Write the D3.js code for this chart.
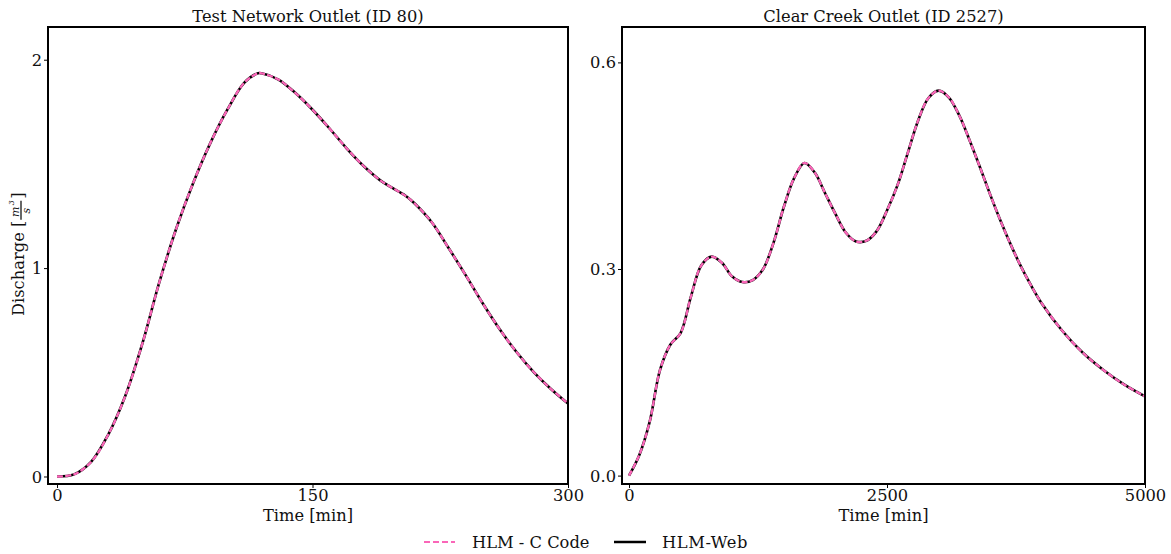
<!DOCTYPE html>
<html><head><meta charset="utf-8">
<script src="https://cdn.jsdelivr.net/npm/d3@7"></script>
<style>
body{margin:0;background:#fff;}
text{font-family:"DejaVu Serif",serif;fill:#111;}
</style></head><body>
<svg id="c" width="1171" height="554"></svg>
<script>
// ---- Data ----
const leftTime = [0,10,20,30,40,50,60,70,80,90,100,110,118,120,130,140,150,160,170,180,190,200,205,210,220,230,240,250,260,270,280,290,300];
const leftQ    = [0,0.01,0.07,0.20,0.385,0.635,0.93,1.19,1.41,1.60,1.76,1.89,1.935,1.935,1.905,1.84,1.76,1.67,1.575,1.49,1.42,1.37,1.345,1.31,1.22,1.095,0.965,0.83,0.705,0.595,0.50,0.42,0.35];
const rightTime = [0,100,200,300,400,500,600,700,800,900,1000,1100,1200,1300,1400,1500,1600,1700,1800,1900,2000,2100,2200,2300,2400,2500,2600,2700,2800,2900,3000,3100,3200,3300,3400,3500,3600,3700,3800,3900,4000,4200,4400,4600,4800,5000];
const rightQ    = [0,0.03,0.078,0.153,0.19,0.207,0.26,0.305,0.318,0.309,0.289,0.281,0.284,0.30,0.338,0.39,0.432,0.454,0.44,0.41,0.38,0.353,0.34,0.341,0.355,0.385,0.421,0.468,0.515,0.548,0.559,0.549,0.523,0.487,0.448,0.408,0.37,0.335,0.303,0.275,0.25,0.21,0.178,0.153,0.132,0.115];
const leftXTicks = [0,150,300];
const leftYTicks = [0,1,2];
const rightXTicks = [0,2500,5000];
const rightYTicks = [0,0.3,0.6];
const titles = ["Test Network Outlet (ID 80)","Clear Creek Outlet (ID 2527)"];
const seriesNames = ["HLM - C Code","HLM-Web"];
const pink = "#fa66b8";
const FS = 16.3;

const svg = d3.select("#c");

function panel(cfg){
  const {x0,x1,y0,y1,xd,yd,xt,yt,yfmt,time,q,title} = cfg;
  const x = d3.scaleLinear().domain(xd).range([x0,x1]);
  const y = d3.scaleLinear().domain(yd).range([y1,y0]);
  const g = svg.append("g");
  const pts = time.map((t,i)=>[t,q[i]]);
  const line = d3.line().x(d=>x(d[0])).y(d=>y(d[1])).curve(d3.curveCatmullRom.alpha(0.5));
  g.append("path").attr("d",line(pts)).attr("fill","none").attr("stroke","#000").attr("stroke-width",2.6);
  g.append("path").attr("d",line(pts)).attr("fill","none").attr("stroke",pink).attr("stroke-width",2.3).attr("stroke-dasharray","6,2.2");
  g.append("rect").attr("x",x0).attr("y",y0).attr("width",x1-x0).attr("height",y1-y0)
    .attr("fill","none").attr("stroke","#000").attr("stroke-width",2);
  const ax = g.append("g").attr("transform",`translate(0,${y1})`)
    .call(d3.axisBottom(x).tickValues(xt).tickSize(4).tickPadding(1).tickFormat(d3.format("d")));
  const ay = g.append("g").attr("transform",`translate(${x0},0)`)
    .call(d3.axisLeft(y).tickValues(yt).tickSize(4).tickPadding(2).tickFormat(yfmt));
  [ax,ay].forEach(a=>{a.select(".domain").remove();a.selectAll("text").attr("font-size",FS).attr("font-family","DejaVu Serif").attr("fill","#111");a.selectAll("line").attr("stroke","#000");});
  ay.selectAll("text").attr("dy","0.34em");
  g.append("text").attr("x",(x0+x1)/2).attr("y",y0-5).attr("text-anchor","middle").attr("font-size",FS).text(title);
  g.append("text").attr("x",(x0+x1)/2).attr("y",y1+37).attr("text-anchor","middle").attr("font-size",FS).text("Time [min]");
}

panel({x0:48,x1:568,y0:27,y1:484,xd:[-5.3,300],yd:[-0.036,2.157],xt:leftXTicks,yt:leftYTicks,yfmt:d3.format("d"),time:leftTime,q:leftQ,title:titles[0]});
panel({x0:622,x1:1145,y0:27,y1:484,xd:[-68,5000],yd:[-0.0122,0.6514],xt:rightXTicks,yt:rightYTicks,yfmt:d3.format(".1f"),time:rightTime,q:rightQ,title:titles[1]});

// y-axis label with fraction
const yl = svg.append("g").attr("transform","translate(24,255) rotate(-90)");
const t1 = yl.append("text").attr("x",-61).attr("y",0).attr("font-size",FS).text("Discharge [");
const w1 = t1.node().getComputedTextLength();
const fx = -61 + w1 + 1;
yl.append("text").attr("x",fx+8).attr("y",-5).attr("text-anchor","middle").attr("font-size",11).attr("font-style","italic").text("m");
yl.append("text").attr("x",fx+14.5).attr("y",-10).attr("font-size",8).attr("font-style","italic").text("3");
yl.append("line").attr("x1",fx).attr("x2",fx+19).attr("y1",-3).attr("y2",-3).attr("stroke","#000").attr("stroke-width",1.2);
yl.append("text").attr("x",fx+9).attr("y",6).attr("text-anchor","middle").attr("font-size",11).attr("font-style","italic").text("s");
yl.append("text").attr("x",fx+21).attr("y",0).attr("font-size",FS).text("]");

// legend
const lg = svg.append("g");
lg.append("line").attr("x1",424).attr("x2",455).attr("y1",542).attr("y2",542).attr("stroke",pink).attr("stroke-width",2).attr("stroke-dasharray","6,3");
lg.append("text").attr("x",472).attr("y",548).attr("font-size",FS).text(seriesNames[0]);
lg.append("line").attr("x1",614).attr("x2",646).attr("y1",542).attr("y2",542).attr("stroke","#000").attr("stroke-width",2.5);
lg.append("text").attr("x",662).attr("y",548).attr("font-size",FS).attr("letter-spacing",0.6).text(seriesNames[1]);
</script>
</body></html>
